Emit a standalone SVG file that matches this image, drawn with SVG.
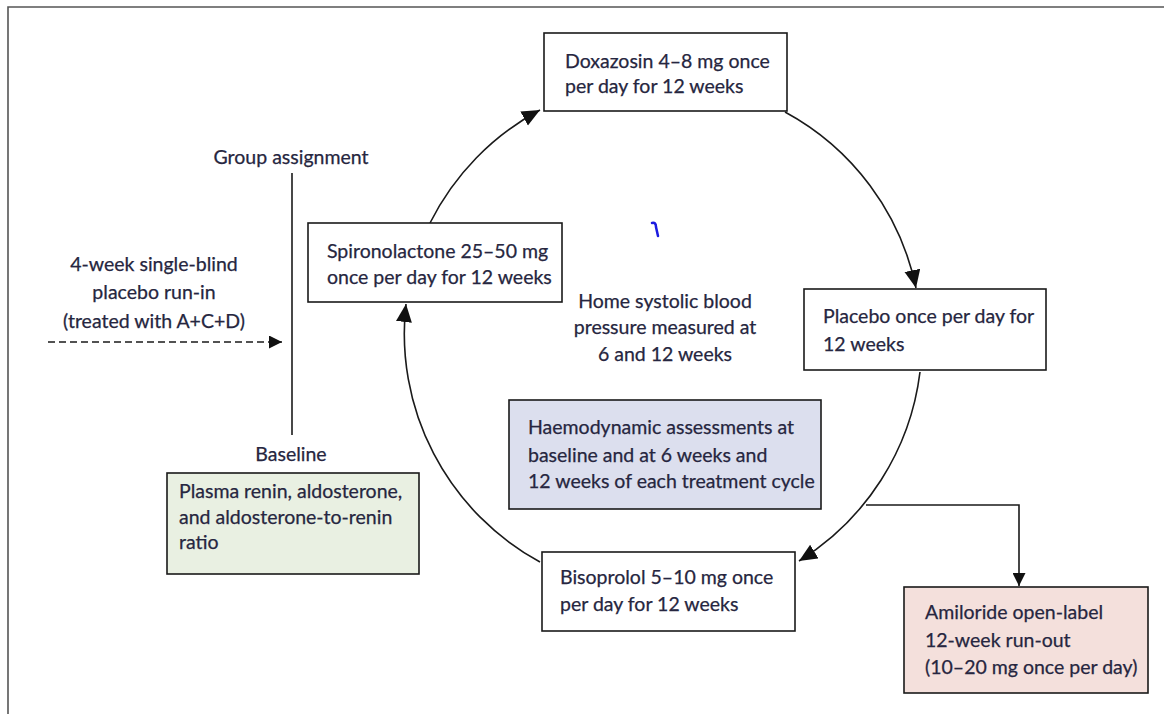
<svg xmlns="http://www.w3.org/2000/svg" width="1175" height="714" viewBox="0 0 1175 714">
<style>
.box{fill:#ffffff;stroke:#1a1a1a;stroke-width:1.6}
.green{fill:#e9f0e2}
.blue{fill:#dcdfee}
.pink{fill:#f4e0dc}
.t{font-family:Lato,"Liberation Sans",sans-serif;font-size:19.5px;fill:#262640;stroke:#262640;stroke-width:0.25}
.c{text-anchor:middle}
.ln{fill:none;stroke:#1a1a1a;stroke-width:1.6}
</style>
<defs>
<marker id="ah" markerUnits="userSpaceOnUse" markerWidth="19" markerHeight="17" refX="18" refY="8" orient="auto">
<path d="M0,0 L18,8 L0,16 z" fill="#111"/>
</marker>
<marker id="ahs" markerUnits="userSpaceOnUse" markerWidth="14" markerHeight="13" refX="13" refY="6.5" orient="auto">
<path d="M0,0 L13,6.5 L0,13 z" fill="#111"/>
</marker>
</defs>
<rect width="1175" height="714" fill="#ffffff"/>
<path d="M8,714 V7 H1164" fill="none" stroke="#555" stroke-width="1.6"/>

<g id="connectors">
<path class="ln" d="M430,223 A260,260 0 0 1 540,110" marker-end="url(#ah)"/>
<path class="ln" d="M785,112 A260,260 0 0 1 916,288" marker-end="url(#ah)"/>
<path class="ln" d="M920,372 A260,260 0 0 1 799,561" marker-end="url(#ah)"/>
<path class="ln" d="M540,562 A260,260 0 0 1 406,304" marker-end="url(#ah)"/>
<path class="ln" d="M866,505 H1019 V586" marker-end="url(#ahs)"/>
<path class="ln" d="M48,342 H282" stroke-dasharray="7,4" marker-end="url(#ahs)"/>
<path class="ln" d="M292,173 V435"/>
</g>

<g id="group-assignment">
<text class="t c" x="291" y="164">Group assignment</text>
</g>
<g id="run-in">
<text class="t c" x="154" y="271">4-week single-blind</text>
<text class="t c" x="154" y="299">placebo run-in</text>
<text class="t c" x="154" y="328">(treated with A+C+D)</text>
</g>
<g id="baseline">
<text class="t c" x="291" y="461">Baseline</text>
</g>

<g id="doxazosin">
<rect class="box" x="544" y="33" width="243" height="78"/>
<text class="t" x="565" y="68">Doxazosin 4–8 mg once</text>
<text class="t" x="565" y="93">per day for 12 weeks</text>
</g>
<g id="placebo">
<rect class="box" x="804" y="289" width="242" height="81"/>
<text class="t" x="823" y="323">Placebo once per day for</text>
<text class="t" x="823" y="351">12 weeks</text>
</g>
<g id="spironolactone">
<rect class="box" x="308" y="223" width="254" height="79"/>
<text class="t" x="327" y="258">Spironolactone 25–50 mg</text>
<text class="t" x="327" y="284">once per day for 12 weeks</text>
</g>
<g id="bisoprolol">
<rect class="box" x="542" y="552" width="253" height="79"/>
<text class="t" x="560" y="584">Bisoprolol 5–10 mg once</text>
<text class="t" x="560" y="611">per day for 12 weeks</text>
</g>
<g id="home-bp">
<text class="t c" x="665" y="308">Home systolic blood</text>
<text class="t c" x="665" y="334">pressure measured at</text>
<text class="t c" x="665" y="361">6 and 12 weeks</text>
</g>
<g id="mark">
<path d="M652,223 Q656,222 656,227 L658,236" fill="none" stroke="#1c1ce0" stroke-width="2.5" stroke-linecap="round"/>
</g>
<g id="haemodynamic">
<rect class="box blue" x="509" y="400" width="312" height="109"/>
<text class="t" x="528" y="434">Haemodynamic assessments at</text>
<text class="t" x="528" y="462">baseline and at 6 weeks and</text>
<text class="t" x="528" y="488">12 weeks of each treatment cycle</text>
</g>
<g id="plasma">
<rect class="box green" x="167" y="473" width="252" height="101"/>
<text class="t" x="179" y="498">Plasma renin, aldosterone,</text>
<text class="t" x="179" y="524">and aldosterone-to-renin</text>
<text class="t" x="179" y="549">ratio</text>
</g>
<g id="amiloride">
<rect class="box pink" x="904" y="587" width="244" height="106"/>
<text class="t" x="925" y="619">Amiloride open-label</text>
<text class="t" x="925" y="647">12-week run-out</text>
<text class="t" x="925" y="674">(10–20 mg once per day)</text>
</g>
</svg>
